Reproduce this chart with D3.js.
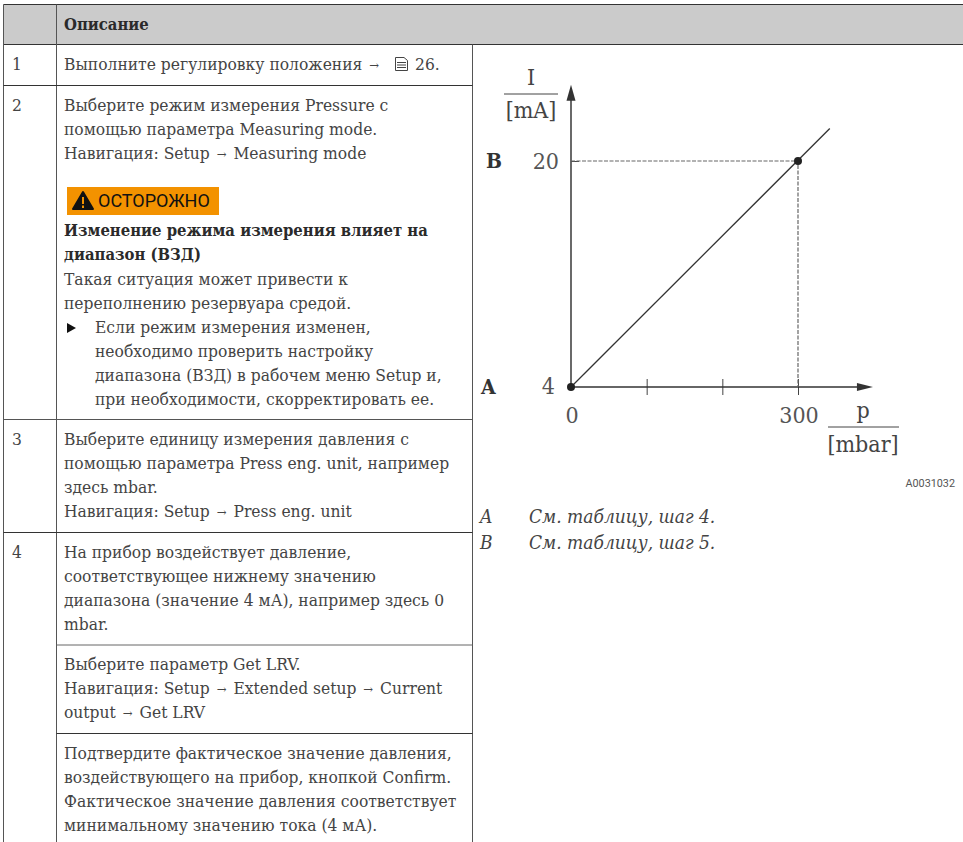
<!DOCTYPE html>
<html>
<head>
<meta charset="utf-8">
<script src="https://cdn.jsdelivr.net/npm/d3@7"></script>
<style>
  html, body { margin: 0; padding: 0; background: #fff; }
  text { font-family: "DejaVu Serif Condensed", "DejaVu Serif", serif; }
  .body { font-size: 17.3px; fill: #444; }
  .strong { font-size: 16.5px; font-weight: bold; fill: #2a2a2a; }
  .tick-label { font-size: 23px; fill: #555; }
  .unit { font-size: 23px; fill: #444; }
  .legend { font-size: 19px; font-style: italic; fill: #444; }
  .arrow { font-size: 13px; }
</style>
</head>
<body>
<div id="chart"></div>
<script>
// values
const pressure = [0, 342]      // mbar, line runs past the 300 mark
const current = [4, 22.3]      // mA
const xTicks = [0, 100, 200, 300]
const xTickLabels = [0, 300]
const yTicks = [4, 20]
const markedPoints = [[0, 4], [300, 20]]
const xAxisEnd = 399
const yAxisEnd = 25.4

// table text, [x, baseline, text]
const rowNumbers = [["1", 70], ["2", 111], ["3", 445], ["4", 558]]
const bodyLines = [
  [64, 70, "Выполните регулировку положения →"],
  [415, 70, "26."],
  [64, 111, "Выберите режим измерения Pressure с"],
  [64, 135, "помощью параметра Measuring mode."],
  [64, 159, "Навигация: Setup → Measuring mode"],
  [64, 285, "Такая ситуация может привести к"],
  [64, 309, "переполнению резервуара средой."],
  [95, 333, "Если режим измерения изменен,"],
  [95, 357, "необходимо проверить настройку"],
  [95, 381, "диапазона (ВЗД) в рабочем меню Setup и,"],
  [95, 405, "при необходимости, скорректировать ее."],
  [64, 445, "Выберите единицу измерения давления с"],
  [64, 469, "помощью параметра Press eng. unit, например"],
  [64, 493, "здесь mbar."],
  [64, 517, "Навигация: Setup → Press eng. unit"],
  [64, 558, "На прибор воздействует давление,"],
  [64, 582, "соответствующее нижнему значению"],
  [64, 606, "диапазона (значение 4 мА), например здесь 0"],
  [64, 630, "mbar."],
  [64, 670, "Выберите параметр Get LRV."],
  [64, 694, "Навигация: Setup → Extended setup → Current"],
  [64, 718, "output → Get LRV"],
  [64, 759, "Подтвердите фактическое значение давления,"],
  [64, 783, "воздействующего на прибор, кнопкой Confirm."],
  [64, 807, "Фактическое значение давления соответствует"],
  [64, 831, "минимальному значению тока (4 мА)."]
]
const strongLines = [
  [64, 30, "Описание"],
  [64, 236, "Изменение режима измерения влияет на"],
  [64, 260, "диапазон (ВЗД)"]
]
const legendItems = [["A", "См. таблицу, шаг 4."], ["B", "См. таблицу, шаг 5."]]

let width = 963
let height = 842

let svg = d3.select("#chart").append("svg")
  .attr("width", width)
  .attr("height", height)
  .style("display", "block")

// table
svg.append("rect").attr("x", 3.5).attr("y", 4.5).attr("width", width).attr("height", 40)
  .style("fill", "#cbcbcb")

const rule = function(x1, y1, x2, y2, colour) {
  svg.append("line")
    .attr("x1", x1).attr("y1", y1).attr("x2", x2).attr("y2", y2)
    .style("stroke", colour || "#333")
    .style("stroke-width", 1)
}
rule(3.5, 4.5, width, 4.5)
rule(3.5, 44.5, width, 44.5)
rule(3.5, 4.5, 3.5, height, "#555")
rule(56.5, 4.5, 56.5, height, "#555")
rule(472.5, 44.5, 472.5, height, "#555")
rule(3.5, 85.5, 472.5, 85.5)
rule(3.5, 419.5, 472.5, 419.5, "#555")
rule(3.5, 532.5, 472.5, 532.5)
rule(56.5, 645, 472.5, 645, "#666")
rule(56.5, 733.5, 472.5, 733.5)

svg.selectAll("text.rowNumber")
  .data(rowNumbers)
  .enter()
  .append("text")
  .attr("class", "body rowNumber")
  .attr("x", 12)
  .attr("y", d => d[1])
  .text(d => d[0])

let lines = svg.selectAll("text.line")
  .data(bodyLines)
  .enter()
  .append("text")
  .attr("class", "body line")
  .attr("x", d => d[0])
  .attr("y", d => d[1])

// arrows are smaller than the text round them, with more air
lines.each(function(d) {
  let t = d3.select(this)
  let afterArrow = false
  d[2].split(/(→)/).forEach(part => {
    let span = t.append("tspan").text(part)
    if (part == "→") {
      span.attr("class", "arrow").attr("dx", 2)
      afterArrow = true
    } else if (afterArrow) {
      span.attr("dx", 2)
    }
  })
})

svg.selectAll("text.strongLine")
  .data(strongLines)
  .enter()
  .append("text")
  .attr("class", "strong strongLine")
  .attr("x", d => d[0])
  .attr("y", d => d[1])
  .text(d => d[2])

// page reference icon
let icon = svg.append("g").attr("transform", "translate(395,57)")
icon.append("path").attr("d", "M0.5 0.5H9L12.5 3.5V13.5H0.5Z").style("fill", "none").style("stroke", "#444")
icon.append("path").attr("d", "M2 5.5H11M2 8H11M2 10.5H11").style("fill", "none").style("stroke", "#444")

// warning label
svg.append("rect").attr("x", 67).attr("y", 187).attr("width", 152).attr("height", 28)
  .style("fill", "#f39200")
svg.append("path").attr("d", "M83 192L93 209H73Z").style("fill", "#111").style("stroke", "#111").style("stroke-width", 2).style("stroke-linejoin", "round")
svg.append("path").attr("d", "M83 197V204M83 205.5V208").style("stroke", "#f39200").style("stroke-width", 2)
svg.append("text").attr("x", 98).attr("y", 207)
  .style("font-family", "Roboto, sans-serif").style("font-size", "18px").style("fill", "#111")
  .text("ОСТОРОЖНО")

// chart
let x = d3.scaleLinear().domain([0, 300]).range([571, 798])
let y = d3.scaleLinear().domain([4, 20]).range([387, 161])

let xAxis = d3.axisBottom(x).tickValues(xTicks).tickSize(8).tickFormat("")
let yAxis = d3.axisLeft(y).tickValues(yTicks.slice(1)).tickSize(8).tickFormat("")

let gx = svg.append("g").attr("transform", `translate(0, ${y(4)})`).call(xAxis)
gx.select(".domain").remove()
gx.selectAll(".tick line").attr("y1", -8).style("stroke", "#444")
gx.selectAll(".tick").filter(d => d == 0).remove()

let gy = svg.append("g").attr("transform", `translate(${x(0)}, 0)`).call(yAxis)
gy.select(".domain").remove()
gy.selectAll(".tick line").attr("x2", 8).style("stroke", "#444")

// axis lines with arrow heads
svg.append("line").attr("x1", x(0)).attr("y1", y(4)).attr("x2", x(xAxisEnd) - 10).attr("y2", y(4))
  .style("stroke", "#333").style("stroke-width", 1.5)
svg.append("line").attr("x1", x(0)).attr("y1", y(4)).attr("x2", x(0)).attr("y2", y(yAxisEnd) + 10)
  .style("stroke", "#444").style("stroke-width", 1.6)
svg.append("path")
  .attr("d", `M${x(xAxisEnd)} ${y(4)}l-16 -4v8Z`)
  .style("fill", "#333")
svg.append("path")
  .attr("d", `M${x(0)} ${y(yAxisEnd)}l-4.5 16h9Z`)
  .style("fill", "#333")

// guide lines
svg.append("path")
  .attr("d", `M${x(0)} ${y(20)}H${x(300)}V${y(4)}`)
  .style("fill", "none")
  .style("stroke", "#666")
  .style("stroke-width", 1.2)
  .style("stroke-dasharray", "4,1.5")

svg.append("line")
  .attr("x1", x(pressure[0])).attr("y1", y(current[0]))
  .attr("x2", x(pressure[1])).attr("y2", y(current[1]))
  .style("stroke", "#333")
  .style("stroke-width", 1.3)

svg.selectAll("circle.mark")
  .data(markedPoints)
  .enter()
  .append("circle")
  .attr("class", "mark")
  .attr("cx", d => x(d[0]))
  .attr("cy", d => y(d[1]))
  .attr("r", 4)
  .style("fill", "#222")

svg.selectAll("text.xLabel")
  .data(xTickLabels)
  .enter()
  .append("text")
  .attr("class", "tick-label xLabel")
  .attr("x", d => x(d) + 1)
  .attr("y", 423)
  .style("text-anchor", "middle")
  .text(d => d)

svg.selectAll("text.yLabel")
  .data(yTicks)
  .enter()
  .append("text")
  .attr("class", "tick-label yLabel")
  .attr("x", d => d == 4 ? 555 : 559)
  .attr("y", d => y(d) + (d == 4 ? 7 : 8))
  .style("text-anchor", "end")
  .text(d => d)

// axis titles
svg.append("text").attr("class", "unit").attr("x", 531).attr("y", 85).style("text-anchor", "middle").text("I")
rule(504, 94, 558, 94, "#444")
svg.append("text").attr("class", "unit").attr("x", 531).attr("y", 118).style("text-anchor", "middle").text("[mA]")
svg.append("text").attr("class", "unit").attr("x", 863).attr("y", 418).style("text-anchor", "middle").text("p")
rule(828, 427, 899, 427, "#444")
svg.append("text").attr("class", "unit").attr("x", 863).attr("y", 452).style("text-anchor", "middle").text("[mbar]")

// callouts
svg.append("text").attr("x", 486).attr("y", 168).style("font-size", "21px").style("font-weight", "bold").style("fill", "#333").text("B")
svg.append("text").attr("x", 481).attr("y", 394).style("font-size", "21px").style("font-weight", "bold").style("fill", "#333").text("A")

svg.append("text").attr("x", 955).attr("y", 487).style("text-anchor", "end")
  .style("font-family", "Roboto, sans-serif").style("font-size", "10.8px").style("fill", "#555")
  .text("A0031032")

let legendRows = svg.selectAll("g.legendRow")
  .data(legendItems)
  .enter()
  .append("g")
  .attr("class", "legendRow")
  .attr("transform", (d, i) => `translate(480, ${523 + i * 26})`)
legendRows.append("text").attr("class", "legend").text(d => d[0])
legendRows.append("text").attr("class", "legend").attr("x", 49).text(d => d[1])

// bullet
svg.append("path").attr("d", "M67 323L76 328L67 333Z").style("fill", "#111")
</script>
</body>
</html>
